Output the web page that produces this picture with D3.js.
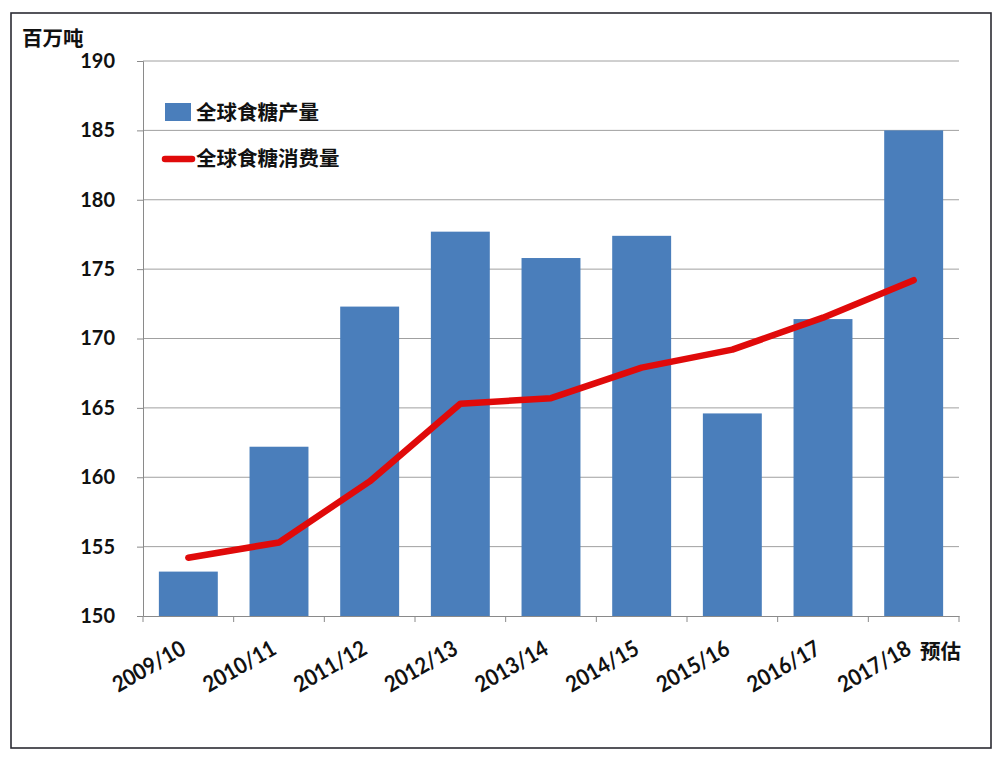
<!DOCTYPE html>
<html><head><meta charset="utf-8">
<script src="https://cdn.jsdelivr.net/npm/d3@7"></script>
<style>body{margin:0;background:#fff}svg{display:block}</style>
</head><body>
<script>
const categories = ["2009/10","2010/11","2011/12","2012/13","2013/14","2014/15","2015/16","2016/17","2017/18"];
const production = [153.2, 162.2, 172.3, 177.7, 175.8, 177.4, 164.6, 171.4, 185.0];
const consumption = [154.2, 155.3, 159.7, 165.3, 165.7, 167.9, 169.2, 171.5, 174.2];
const yTicks = [150,155,160,165,170,175,180,185,190];
const seriesNames = ["全球食糖产量","全球食糖消费量"];
const unitLabel = "百万吨";
const estimateLabel = "预估";

const W = 1000, H = 758;
const m = {left:143, right:1000-959, top:61, bottom:758-616};
const svg = d3.select("body").append("svg").attr("width",W).attr("height",H);
const font = "Lato, 'Noto Sans CJK SC', sans-serif";

svg.append("rect").attr("x",11).attr("y",13).attr("width",980).attr("height",735)
  .attr("fill","#fff").attr("stroke","#2b2b33").attr("stroke-width",1.6);

const x = d3.scaleBand().domain(categories).range([m.left, W-m.right]).padding(0);
const y = d3.scaleLinear().domain([150,190]).range([H-m.bottom, m.top]);

// gridlines
svg.append("g").selectAll("line").data(yTicks.filter(d=>d>150)).join("line")
  .attr("x1",m.left).attr("x2",W-m.right)
  .attr("y1",d=>y(d)).attr("y2",d=>y(d))
  .attr("stroke","#a0a0a0").attr("stroke-width",1);

// bars
const bw = x.bandwidth();
svg.append("g").selectAll("rect").data(categories).join("rect")
  .attr("x",d=>x(d)+bw*0.175).attr("width",bw*0.65)
  .attr("y",(d,i)=>y(production[i])).attr("height",(d,i)=>y(150)-y(production[i]))
  .attr("fill","#4a7ebb");

// axes
const yAxis = svg.append("g").attr("transform",`translate(${m.left},0)`)
  .call(d3.axisLeft(y).tickValues(yTicks).tickSize(6).tickPadding(22).tickFormat(d3.format("d")));
yAxis.select(".domain").attr("stroke","#8a8a8a");
yAxis.selectAll(".tick line").attr("stroke","#8a8a8a");
yAxis.selectAll("text").attr("font-family",font).attr("font-size",20).attr("font-weight","bold").attr("fill","#111");

const xAxis = svg.append("g").attr("transform",`translate(0,${y(150)})`)
  .call(d3.axisBottom(x).tickSize(0).tickFormat(""));
xAxis.select(".domain").attr("stroke","#8a8a8a");
svg.append("g").selectAll("line").data(categories.concat(["__end"])).join("line")
  .attr("x1",(d,i)=>m.left+i*bw).attr("x2",(d,i)=>m.left+i*bw)
  .attr("y1",y(150)).attr("y2",y(150)+6).attr("stroke","#8a8a8a");

// x labels
svg.append("g").selectAll("text").data(categories).join("text")
  .attr("transform",d=>`translate(${x(d)+bw/2-1},${y(150)+37}) rotate(-30) scale(0.9,1)`)
  .attr("text-anchor","end").attr("font-family",font).attr("font-size",22.5)
  .attr("font-weight","bold").attr("fill","#111").text(d=>d);
svg.append("text").attr("x",920).attr("y",659)
  .attr("font-family",font).attr("font-size",20.5).attr("font-weight","bold").attr("fill","#111")
  .text(estimateLabel);

// line
const line = d3.line().x((d,i)=>x(categories[i])+bw/2).y(d=>y(d));
svg.append("path").datum(consumption).attr("d",line).attr("fill","none")
  .attr("stroke","#e00a0a").attr("stroke-width",6.5).attr("stroke-linecap","round").attr("stroke-linejoin","round");

// unit label
svg.append("text").attr("x",22).attr("y",46).attr("font-family",font).attr("font-size",20.5)
  .attr("font-weight","bold").attr("fill","#111").text(unitLabel);

// legend
const lg = svg.append("g");
lg.append("rect").attr("x",165).attr("y",103).attr("width",26).attr("height",18).attr("fill","#4a7ebb");
lg.append("text").attr("x",196).attr("y",120).attr("font-family",font).attr("font-size",20.5)
  .attr("font-weight","bold").attr("fill","#111").text(seriesNames[0]);
lg.append("line").attr("x1",165).attr("x2",192).attr("y1",159).attr("y2",159)
  .attr("stroke","#e00a0a").attr("stroke-width",6.5).attr("stroke-linecap","round");
lg.append("text").attr("x",196).attr("y",166).attr("font-family",font).attr("font-size",20.5)
  .attr("font-weight","bold").attr("fill","#111").text(seriesNames[1]);
</script>
</body></html>
